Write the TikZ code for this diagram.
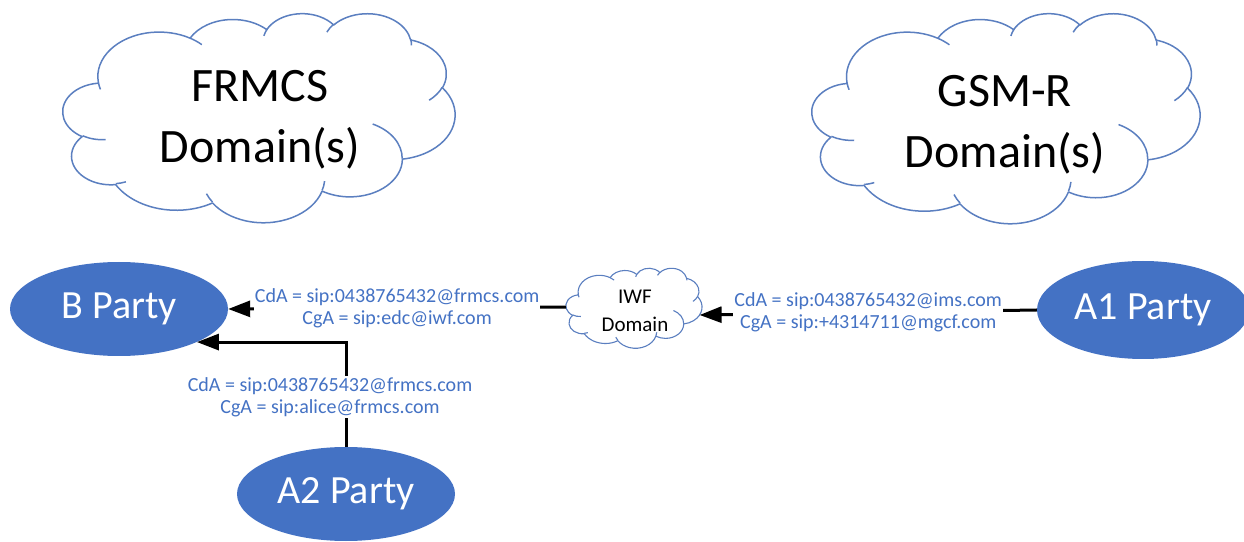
\documentclass[tikz,border=0pt]{standalone}
\usepackage{fontspec}
\setmainfont{Carlito}
\usetikzlibrary{shapes.geometric,arrows.meta}
\definecolor{partyblue}{HTML}{4472C4}
\definecolor{cloudline}{HTML}{5B7FC0}
\definecolor{lbltext}{HTML}{4472C4}
% Office-style cloud: #1 name, #2 left, #3 top, #4 x unit, #5 y unit, #6 line width
\newcommand\officecloud[6]{%
\begin{scope}[shift={(#2,#3)}, x=#4pt, y=-#5pt]
\draw[draw=cloudline, fill=white, line width=#6pt, line join=round]
 (39.00,143.70)
 arc[start angle=172.255, end angle=300.37, x radius=67.53, y radius=91.90]
 arc[start angle=-152.02, end angle=-45.46, x radius=53.33, y radius=72.67]
 arc[start angle=-153.49, end angle=-37.33, x radius=43.65, y radius=59.45]
 arc[start angle=-139.69, end angle=-10.21, x radius=48.57, y radius=65.95]
 arc[start angle=-74.77, end angle=23.21, x radius=53.33, y radius=72.73]
 arc[start angle=-37.52, end angle=81.86, x radius=67.75, y radius=92.20]
 arc[start angle=0.459, end angle=121.97, x radius=57.85, y radius=78.67]
 arc[start angle=16.84, end angle=146.23, x radius=67.52, y radius=92.15]
 arc[start angle=58.98, end angle=150.18, x radius=77.20, y radius=105.43]
 arc[start angle=83.31, end angle=223.1, x radius=43.60, y radius=59.18]
 arc[start angle=120.36, end angle=264.11, x radius=43.45, y radius=59.45]
 -- cycle;
\draw[draw=cloudline, line width=#6pt]
 (46.93,261.77) arc[start angle=85.54, end angle=120.36, x radius=43.45, y radius=59.45]
 (69.28,348.99) arc[start angle=68.24, end angle=83.31, x radius=43.60, y radius=59.18]
 (164.78,390.90) arc[start angle=146.23, end angle=158.48, x radius=67.52, y radius=92.15]
 (288.27,347.51) arc[start angle=4.74, end angle=16.84, x radius=67.52, y radius=92.15]
 (341.29,229.54) arc[start angle=-64.02, end angle=0.459, x radius=57.85, y radius=78.67]
 (417.98,153.54) arc[start angle=23.21, end angle=49.64, x radius=53.33, y radius=72.73]
 (383.24,54.26) arc[start angle=-10.21, end angle=0.82, x radius=48.57, y radius=65.95]
 (290.78,39.52) arc[start angle=-156.28, end angle=-139.69, x radius=48.57, y radius=65.95]
 (221.41,47.20) arc[start angle=-167.73, end angle=-153.49, x radius=43.65, y radius=59.45]
 (140.00,51.92) arc[start angle=-59.63, end angle=-45.73, x radius=67.53, y radius=91.90]
 (41.27,157.89) arc[start angle=163.2, end angle=172.255, x radius=67.53, y radius=91.90];
\coordinate (#1-W) at (-0.1,210.6);
\coordinate (#1-E) at (424.4,253.8);
\end{scope}}
\begin{document}
\begin{tikzpicture}[x=1pt,y=1pt,
  party/.style={ellipse, fill=partyblue, text=white, font=\fontsize{40}{48}\selectfont, inner sep=0},
  conn/.style={line width=3pt, black},
  arr/.style={conn, -{Triangle[length=22pt,width=16pt]}},
  sip/.style={fill=white, text=lbltext, align=center, font=\fontsize{20}{22}\selectfont, inner sep=1pt},
  big/.style={align=center, font=\fontsize{48}{61}\selectfont},
  small/.style={align=center, font=\fontsize{21}{28}\selectfont}
]
\useasboundingbox (0,0) rectangle (1244,541);
\officecloud{frmcs}{63}{528}{0.90741}{0.48380}{1.5}
\node[big] (frmcsT) at (260,421) {FRMCS\\Domain(s)};
\officecloud{gsmr}{812}{528}{0.89815}{0.48611}{1.5}
\node[big] (gsmrT) at (1005,416) {GSM-R\\Domain(s)};
\officecloud{iwf}{566}{273}{0.31481}{0.18519}{1.1}
\node[small] (iwfT) at (635,230) {IWF\\Domain};
\node[party, minimum width=218, minimum height=94] (B) at (119,232) {B Party};
\node[party, minimum width=212, minimum height=98] (A1) at (1143,231) {A1 Party};
\node[party, minimum width=218, minimum height=94] (A2) at (346,47) {A2 Party};
\draw[arr] (iwf-W) -- (B.east) node[sip, midway] (lblB) {CdA = sip:0438765432@frmcs.com\\CgA = sip:edc@iwf.com};
\draw[arr] (A1.west) -- (iwf-E) node[sip, midway] (lblA1) {CdA = sip:0438765432@ims.com\\CgA = sip:+4314711@mgcf.com};
\draw[arr] (A2.north) |- (B.-23);
\node[sip] (lblA2) at (330,144) {CdA = sip:0438765432@frmcs.com\\CgA = sip:alice@frmcs.com};
\end{tikzpicture}
\end{document}
